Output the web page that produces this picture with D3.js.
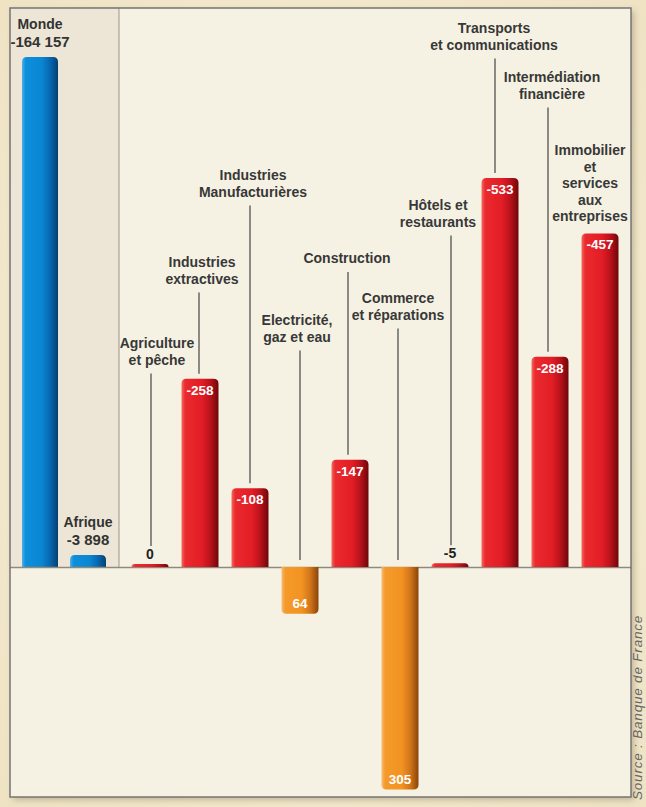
<!DOCTYPE html>
<html><head><meta charset="utf-8">
<script src="https://cdn.jsdelivr.net/npm/d3@7/dist/d3.min.js"></script>
<style>
html,body{margin:0;padding:0;background:#f1e8cd;}
svg{display:block;}
text{font-family:"Liberation Sans",Arial,Helvetica,sans-serif;}
</style></head>
<body>
<svg id="chart" width="646" height="807"></svg>
<script>
// ---- data ----
const regions = ["Monde", "Afrique"];
const regionValues = [-164157, -3898];
const categories = ["Agriculture et pêche", "Industries extractives", "Industries Manufacturières",
  "Electricité, gaz et eau", "Construction", "Commerce et réparations", "Hôtels et restaurants",
  "Transports et communications", "Intermédiation financière", "Immobilier et services aux entreprises"];
const categoryLines = [["Agriculture","et pêche"],["Industries","extractives"],["Industries","Manufacturières"],
  ["Electricité,","gaz et eau"],["Construction"],["Commerce","et réparations"],["Hôtels et","restaurants"],
  ["Transports","et communications"],["Intermédiation","financière"],["Immobilier","et","services","aux","entreprises"]];
const values = [0, -258, -108, 64, -147, 305, -5, -533, -288, -457];
const sourceText = "Source : Banque de France";

// ---- layout (styling, not data) ----
const labelLayout = [
  {y:348, dx:7,  ldx:1},
  {y:267, dx:2,  ldx:-1},
  {y:180, dx:3,  ldx:0},
  {y:325, dx:-3, ldx:0},
  {y:263, dx:-3, ldx:-2},
  {y:303, dx:-2, ldx:-2},
  {y:210, dx:-12,ldx:1},
  {y:33,  dx:-6, ldx:-5},
  {y:82,  dx:2,  ldx:-2},
  {y:155, dx:-10,ldx:null}
];

const svg = d3.select("#chart");
const W = 646, H = 807;
const panel = {x:10, y:8, w:621, h:789};
const base = 567;

const defs = svg.append("defs");
const bg = defs.append("radialGradient").attr("id","bg").attr("cx","50%").attr("cy","50%").attr("r","75%");
bg.append("stop").attr("offset","0%").attr("stop-color","#f8f1dc");
bg.append("stop").attr("offset","100%").attr("stop-color","#eee2c2");
const sh = defs.append("filter").attr("id","shadow").attr("x","-5%").attr("y","-5%").attr("width","115%").attr("height","115%");
sh.append("feDropShadow").attr("dx",3).attr("dy",3).attr("stdDeviation",3).attr("flood-color","#6b5a30").attr("flood-opacity",0.35);

function grad(id, stops){
  const g = defs.append("linearGradient").attr("id",id).attr("x1","0").attr("x2","1").attr("y1","0").attr("y2","0");
  stops.forEach(s=>g.append("stop").attr("offset",s[0]).attr("stop-color",s[1]));
}
grad("gRed",   [["0%","#f36a5e"],["10%","#ea2a2f"],["55%","#e31d25"],["78%","#b8121b"],["100%","#6e070b"]]);
grad("gBlue",  [["0%","#4fb0ea"],["10%","#0d8fdb"],["55%","#0a86d3"],["78%","#0767b0"],["100%","#043f73"]]);
grad("gOrange",[["0%","#f8bb74"],["10%","#f49a2a"],["55%","#f29322"],["78%","#d0741a"],["100%","#8a4508"]]);

svg.append("rect").attr("width",W).attr("height",H).attr("fill","url(#bg)");
svg.append("rect").attr("x",panel.x).attr("y",panel.y).attr("width",panel.w).attr("height",panel.h)
  .attr("fill","#f6f2e3").attr("filter","url(#shadow)");
svg.append("rect").attr("x",panel.x).attr("y",panel.y).attr("width",109).attr("height",base-panel.y)
  .attr("fill","#ede6d6");
svg.append("line").attr("x1",119).attr("x2",119).attr("y1",panel.y).attr("y2",base)
  .attr("stroke","#9a968c").attr("stroke-width",1);

// ---- scales ----
const xL = d3.scaleBand().domain(regions).range([16,112]).paddingInner(0.25).paddingOuter(0.125);
const yL = d3.scaleLinear().domain([0, -164157]).range([base, 57]);
const x = d3.scaleBand().domain(categories).range([125,625]).paddingInner(0.26).paddingOuter(0.13);
const y = d3.scaleLinear().domain([0, -533]).range([base, 178]);

function barPath(x0, w, yb, ye){
  const up = ye < yb;
  const h = Math.abs(ye - yb);
  const r = Math.min(5, h, w/2);
  if(up){
    return `M${x0},${yb}V${ye+r}Q${x0},${ye} ${x0+r},${ye}H${x0+w-r}Q${x0+w},${ye} ${x0+w},${ye+r}V${yb}Z`;
  } else {
    return `M${x0},${yb}V${ye-r}Q${x0},${ye} ${x0+r},${ye}H${x0+w-r}Q${x0+w},${ye} ${x0+w},${ye-r}V${yb}Z`;
  }
}
function endY(scale, v){
  const e = scale(v);
  return Math.abs(e - base) < 3 ? base - 3 : e;
}

const fmt = v => (v<0?"-":"") + d3.format(",")(Math.abs(v)).replace(/,/g," ");

// ---- region bars ----
const rg = svg.append("g");
regions.forEach((r,i)=>{
  const v = regionValues[i];
  const ye = endY(yL, v);
  rg.append("path").attr("d", barPath(xL(r), xL.bandwidth(), base, ye)).attr("fill","url(#gBlue)");
  const cx = xL(r) + xL.bandwidth()/2;
  rg.append("text").attr("x",cx).attr("y",ye-28).attr("text-anchor","middle")
    .attr("font-size",14).attr("font-weight","bold").attr("fill","#333").text(r);
  rg.append("text").attr("x",cx).attr("y",ye-10).attr("text-anchor","middle")
    .attr("font-size",15).attr("font-weight","bold").attr("fill","#333").text(fmt(v));
});

// baseline
svg.append("line").attr("x1",panel.x).attr("x2",panel.x+panel.w).attr("y1",base+0.5).attr("y2",base+0.5)
  .attr("stroke","#8e8a80").attr("stroke-width",1.5);

// ---- category bars ----
const cg = svg.append("g");
categories.forEach((c,i)=>{
  const v = values[i];
  const ye = endY(y, v);
  const x0 = x(c), w = x.bandwidth(), cx = x0 + w/2;
  const up = v <= 0;
  cg.append("path").attr("d", barPath(x0, w, base, ye))
    .attr("fill", up ? "url(#gRed)" : "url(#gOrange)");
  const h = Math.abs(ye - base);
  let labelTop;
  if(h < 20){
    cg.append("text").attr("x",cx).attr("y",ye-5).attr("text-anchor","middle")
      .attr("font-size",14).attr("font-weight","bold").attr("fill","#222").text(fmt(v));
    labelTop = ye - 5 - 13;
  } else if(up){
    cg.append("text").attr("x",cx).attr("y",ye+16).attr("text-anchor","middle")
      .attr("font-size",13.5).attr("font-weight","bold").attr("fill","#fff").text(fmt(v));
    labelTop = ye - 5;
  } else {
    cg.append("text").attr("x",cx).attr("y",ye-6).attr("text-anchor","middle")
      .attr("font-size",13.5).attr("font-weight","bold").attr("fill","#fff").text(fmt(v));
    labelTop = base - 7;
  }
  const L = labelLayout[i];
  const lines = categoryLines[i];
  const t = cg.append("text").attr("text-anchor","middle").attr("font-size",14)
    .attr("font-weight","bold").attr("fill","#383838");
  lines.forEach((ln,j)=>{
    t.append("tspan").attr("x",cx+L.dx).attr("y",L.y + j*16.5).text(ln);
  });
  if(L.ldx !== null){
    const lastB = L.y + (lines.length-1)*16.5;
    cg.append("line").attr("x1",cx+L.ldx).attr("x2",cx+L.ldx)
      .attr("y1",lastB+9).attr("y2",labelTop)
      .attr("stroke","#444").attr("stroke-width",1.2);
  }
});

// panel border
svg.append("rect").attr("x",panel.x).attr("y",panel.y).attr("width",panel.w).attr("height",panel.h)
  .attr("fill","none").attr("stroke","#747474").attr("stroke-width",1.5);

// source
svg.append("text").attr("transform","translate(642,800) rotate(-90)")
  .attr("font-size",13.5).attr("letter-spacing",0.8).attr("font-style","italic").attr("fill","#666").text(sourceText);
</script>
</body></html>
